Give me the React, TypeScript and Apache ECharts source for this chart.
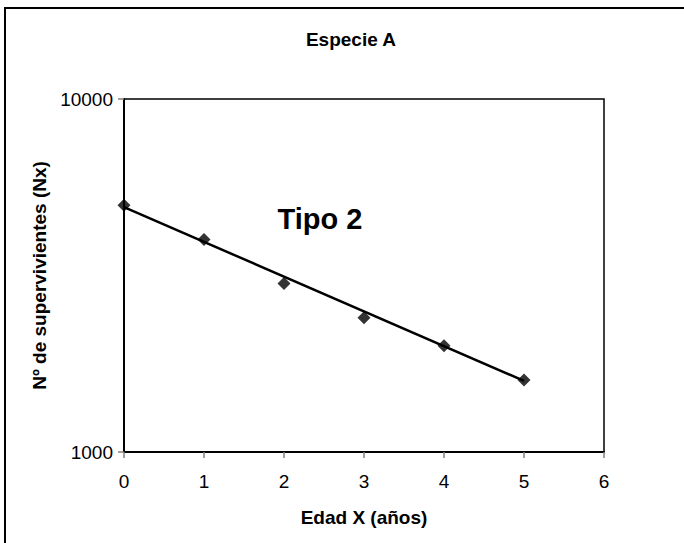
import React, { useEffect, useRef } from "react";
import * as echarts from "echarts";

const ages = [0, 1, 2, 3, 4, 5];
const survivors = [5000, 4000, 3000, 2400, 2000, 1600];
const trendAges = [0, 5];
const trendValues = [4940, 1590];
const titleText = "Especie A";
const xName = "Edad X (años)";
const yName = "Nº de supervivientes (Nx)";
const annotation = "Tipo 2";

const FONT = "'Liberation Sans', Arial, sans-serif";

export default function App() {
  const ref = useRef<HTMLDivElement>(null);
  useEffect(() => {
    if (!ref.current) return;
    const chart = echarts.init(ref.current, null, { renderer: "svg" });
    chart.setOption({
      animation: false,
      backgroundColor: "#ffffff",
      textStyle: { fontFamily: FONT },
      title: {
        text: titleText,
        left: 346,
        top: 25,
        textAlign: "center",
        textStyle: { fontFamily: FONT, fontSize: 19, fontWeight: "bold", color: "#000" },
      },
      grid: {
        left: 124,
        right: 80,
        top: 99,
        bottom: 91,
        show: true,
        borderColor: "#000",
        borderWidth: 1.5,
        backgroundColor: "#fff",
      },
      xAxis: {
        type: "value",
        min: 0,
        max: 6,
        interval: 1,
        name: xName,
        nameLocation: "middle",
        nameGap: 56,
        nameTextStyle: { fontFamily: FONT, fontSize: 19, fontWeight: "bold", color: "#000" },
        axisLine: { lineStyle: { color: "#000", width: 2 } },
        axisTick: { show: true, length: 6, lineStyle: { color: "#808080", width: 1.5 } },
        axisLabel: { fontFamily: FONT, fontSize: 19, color: "#000", margin: 20 },
        splitLine: { show: false },
      },
      yAxis: {
        type: "log",
        logBase: 10,
        min: 1000,
        max: 10000,
        name: yName,
        nameLocation: "middle",
        nameGap: 74,
        nameTextStyle: { fontFamily: FONT, fontSize: 19, fontWeight: "bold", color: "#000" },
        axisLine: { show: true, lineStyle: { color: "#000", width: 2 } },
        axisTick: { show: true, length: 6, lineStyle: { color: "#808080", width: 1.5 } },
        axisLabel: {
          fontFamily: FONT,
          fontSize: 19,
          color: "#000",
          margin: 11,
          formatter: (v: number) => String(Math.round(v)),
        },
        splitLine: { show: false },
        minorTick: { show: false },
      },
      series: [
        {
          type: "line",
          data: trendAges.map((a, i) => [a, trendValues[i]]),
          showSymbol: false,
          symbol: "none",
          lineStyle: { color: "#000", width: 2.5 },
          z: 2,
        },
        {
          type: "scatter",
          data: ages.map((a, i) => [a, survivors[i]]),
          symbol: "diamond",
          symbolSize: 13,
          itemStyle: { color: "#000" },
          z: 3,
        },
      ],
      graphic: [
        {
          type: "rect",
          shape: { x: 5, y: 8, width: 720, height: 600 },
          style: { fill: "none", stroke: "#000", lineWidth: 2 },
          silent: true,
          z: 100,
        },
        {
          type: "text",
          x: 320,
          y: 219,
          style: {
            text: annotation,
            fontFamily: FONT,
            fontSize: 29,
            fontWeight: "bold",
            fill: "#000",
            textAlign: "center",
            textVerticalAlign: "middle",
          },
          z: 100,
        },
      ],
    });
    return () => chart.dispose();
  }, []);
  return (
    <div
      ref={ref}
      style={{ position: "fixed", left: 0, top: 0, width: 684, height: 543, background: "#fff" }}
    />
  );
}
